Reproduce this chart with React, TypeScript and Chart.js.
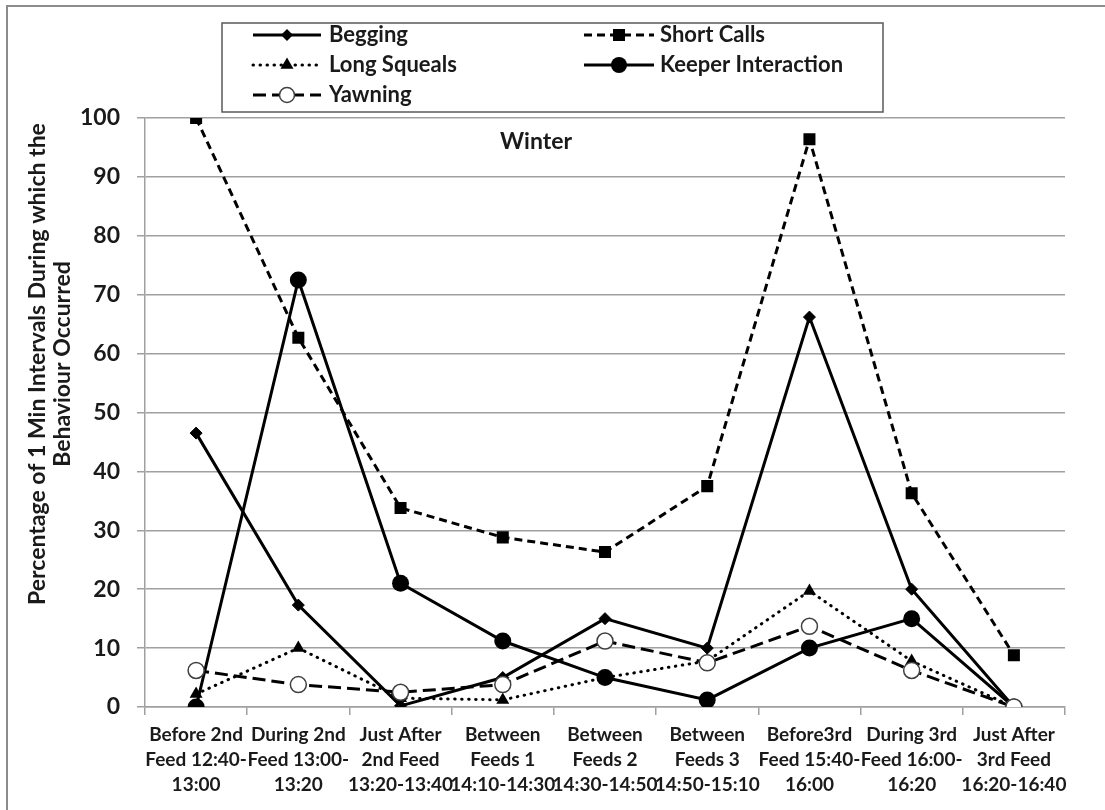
import React, { useEffect, useRef } from 'react';
import { Chart, registerables } from 'chart.js';

Chart.register(...registerables);

const FONT = 'Lato, "Open Sans", "DejaVu Sans", sans-serif';

const categories: string[][] = [
  ['Before 2nd', 'Feed 12:40-', '13:00'],
  ['During 2nd', 'Feed 13:00-', '13:20'],
  ['Just After', '2nd Feed', '13:20-13:40'],
  ['Between', 'Feeds 1', '14:10-14:30'],
  ['Between', 'Feeds 2', '14:30-14:50'],
  ['Between', 'Feeds 3', '14:50-15:10'],
  ['Before3rd', 'Feed 15:40-', '16:00'],
  ['During 3rd', 'Feed 16:00-', '16:20'],
  ['Just After', '3rd Feed', '16:20-16:40'],
];

const begging = [46.5, 17.3, 0.2, 5, 15, 10, 66.2, 20, 0];
const shortCalls = [100, 62.7, 33.8, 28.8, 26.3, 37.5, 96.4, 36.3, 8.8];
const longSqueals = [2.2, 10, 1.5, 1.2, 5, 7.8, 19.7, 7.8, 0];
const keeperInteraction = [0, 72.5, 21, 11.2, 5, 1.2, 10, 15, 0];
const yawning = [6.2, 3.8, 2.5, 3.8, 11.2, 7.5, 13.7, 6.2, 0];

const yTitleLines = ['Percentage of 1 Min Intervals During which the', 'Behaviour Occurred'];
const panelTitle = 'Winter';

type Marker = 'diamond' | 'square' | 'triangle' | 'dot' | 'ring';

const legendItems: { label: string; dash: number[]; cap: CanvasLineCap; marker: Marker; col: number; row: number }[] = [
  { label: 'Begging', dash: [], cap: 'butt', marker: 'diamond', col: 0, row: 0 },
  { label: 'Short Calls', dash: [8, 5], cap: 'butt', marker: 'square', col: 1, row: 0 },
  { label: 'Long Squeals', dash: [0.5, 6.5], cap: 'round', marker: 'triangle', col: 0, row: 1 },
  { label: 'Keeper Interaction', dash: [], cap: 'butt', marker: 'dot', col: 1, row: 1 },
  { label: 'Yawning', dash: [13, 6], cap: 'butt', marker: 'ring', col: 0, row: 2 },
];

function drawMarker(ctx: CanvasRenderingContext2D, m: Marker, x: number, y: number) {
  ctx.save();
  ctx.setLineDash([]);
  ctx.fillStyle = '#000';
  ctx.beginPath();
  if (m === 'diamond') {
    const r = 6;
    ctx.moveTo(x, y - r); ctx.lineTo(x + r, y); ctx.lineTo(x, y + r); ctx.lineTo(x - r, y); ctx.closePath();
    ctx.fill();
  } else if (m === 'square') {
    const s = 6;
    ctx.rect(x - s, y - s, 2 * s, 2 * s);
    ctx.fill();
  } else if (m === 'triangle') {
    const r = 7.5;
    for (let i = 0; i < 3; i++) {
      const a = (i * 2 * Math.PI) / 3;
      const px = x + Math.sin(a) * r;
      const py = y - Math.cos(a) * r;
      if (i === 0) ctx.moveTo(px, py); else ctx.lineTo(px, py);
    }
    ctx.closePath();
    ctx.fill();
  } else if (m === 'dot') {
    ctx.arc(x, y, 8, 0, Math.PI * 2);
    ctx.fill();
  } else {
    ctx.arc(x, y, 7.5, 0, Math.PI * 2);
    ctx.fillStyle = '#fff';
    ctx.fill();
    ctx.lineWidth = 1.5;
    ctx.strokeStyle = '#404040';
    ctx.stroke();
  }
  ctx.restore();
}

const decorPlugin = {
  id: 'decor',
  beforeDraw(chart: Chart) {
    const ctx = chart.ctx;
    ctx.save();
    ctx.fillStyle = '#ffffff';
    ctx.fillRect(0, 0, chart.width, chart.height);
    ctx.restore();
  },
  afterDraw(chart: Chart) {
    const ctx = chart.ctx;
    ctx.save();
    // outer frame
    ctx.strokeStyle = '#8c8c8c';
    ctx.lineWidth = 2;
    ctx.beginPath();
    ctx.moveTo(7, chart.height + 5);
    ctx.lineTo(7, 6);
    ctx.lineTo(chart.width + 5, 6);
    ctx.stroke();

    // y axis title
    ctx.fillStyle = '#1a1a1a';
    ctx.font = `bold 23px ${FONT}`;
    ctx.textAlign = 'center';
    ctx.textBaseline = 'middle';
    yTitleLines.forEach((t, i) => {
      ctx.save();
      ctx.translate(38 + i * 25, 364);
      ctx.rotate(-Math.PI / 2);
      ctx.fillText(t, 0, 0);
      ctx.restore();
    });

    // panel title
    ctx.font = `bold 23px ${FONT}`;
    ctx.fillText(panelTitle, 536, 142);

    // legend box
    ctx.fillStyle = '#fff';
    ctx.fillRect(222, 23, 661, 89);
    ctx.strokeStyle = '#5a5a5a';
    ctx.lineWidth = 1.5;
    ctx.strokeRect(222, 23, 661, 89);

    const colLineStart = [253, 584];
    const colLineEnd = [321, 654];
    const colText = [329, 660];
    const rowY = [35, 65, 95];
    legendItems.forEach((it) => {
      const y = rowY[it.row];
      ctx.save();
      ctx.strokeStyle = '#000';
      ctx.lineWidth = 3;
      ctx.lineCap = it.cap;
      ctx.setLineDash(it.dash);
      ctx.beginPath();
      ctx.moveTo(colLineStart[it.col], y);
      ctx.lineTo(colLineEnd[it.col], y);
      ctx.stroke();
      ctx.restore();
      drawMarker(ctx, it.marker, (colLineStart[it.col] + colLineEnd[it.col]) / 2, y);
      ctx.fillStyle = '#1a1a1a';
      ctx.font = `bold 22px ${FONT}`;
      ctx.textAlign = 'left';
      ctx.textBaseline = 'middle';
      ctx.fillText(it.label, colText[it.col], y);
    });
    ctx.restore();
  },
};

export default function App() {
  const canvasRef = useRef<HTMLCanvasElement | null>(null);

  useEffect(() => {
    if (!canvasRef.current) return;
    const gridColor = '#a0a0a0';
    const chart = new Chart(canvasRef.current, {
      type: 'line',
      data: {
        labels: categories,
        datasets: [
          {
            label: 'Begging', data: begging, order: 4,
            borderColor: '#000', borderWidth: 3, borderDash: [],
            pointStyle: 'rectRot', pointRadius: 6, pointBackgroundColor: '#000', pointBorderColor: '#000', pointBorderWidth: 1,
            tension: 0, fill: false,
          },
          {
            label: 'Short Calls', data: shortCalls, order: 3,
            borderColor: '#000', borderWidth: 3, borderDash: [8, 5],
            pointStyle: 'rect', pointRadius: 8.5, pointBackgroundColor: '#000', pointBorderColor: '#000', pointBorderWidth: 0,
            tension: 0, fill: false,
          },
          {
            label: 'Long Squeals', data: longSqueals, order: 2,
            borderColor: '#000', borderWidth: 3, borderDash: [0.5, 6.5], borderCapStyle: 'round',
            pointStyle: 'triangle', pointRadius: 7.5, pointBackgroundColor: '#000', pointBorderColor: '#000', pointBorderWidth: 0,
            tension: 0, fill: false,
          },
          {
            label: 'Keeper Interaction', data: keeperInteraction, order: 1,
            borderColor: '#000', borderWidth: 3, borderDash: [],
            pointStyle: 'circle', pointRadius: 8.5, pointBackgroundColor: '#000', pointBorderColor: '#000', pointBorderWidth: 0,
            tension: 0, fill: false,
          },
          {
            label: 'Yawning', data: yawning, order: 0,
            borderColor: '#000', borderWidth: 3, borderDash: [13, 6],
            pointStyle: 'circle', pointRadius: 8, pointBackgroundColor: '#fff', pointBorderColor: '#404040', pointBorderWidth: 1.5,
            tension: 0, fill: false,
          },
        ],
      },
      options: {
        animation: false,
        responsive: true,
        maintainAspectRatio: false,
        layout: { padding: { top: 118, right: 40, left: 0, bottom: 0 } },
        plugins: {
          legend: { display: false },
          tooltip: { enabled: false },
          title: { display: false },
        },
        scales: {
          x: {
            type: 'category',
            offset: true,
            grid: { offset: true, drawOnChartArea: false, drawTicks: true, tickLength: 8, color: gridColor, lineWidth: 1.5 },
            border: { color: gridColor, width: 1.5 },
            ticks: {
              maxRotation: 0, minRotation: 0, autoSkip: false, padding: 7, color: '#1a1a1a',
              font: { family: FONT, size: 19, weight: 'bold', lineHeight: 1.32 },
            },
            afterFit: (s: any) => { s.height = 103; },
          },
          y: {
            min: 0, max: 100,
            ticks: { stepSize: 10, padding: 17, color: '#1a1a1a', font: { family: FONT, size: 23, weight: 'bold' } },
            grid: { color: gridColor, lineWidth: 1.5, tickLength: 8 },
            border: { color: gridColor, width: 1.5 },
            afterFit: (s: any) => { s.width = 145; },
          },
        },
      },
      plugins: [decorPlugin],
    } as any);
    return () => chart.destroy();
  }, []);

  return (
    <div style={{ position: 'fixed', left: 0, top: 0, width: 1105, height: 810, background: '#fff' }}>
      <canvas ref={canvasRef} />
    </div>
  );
}
